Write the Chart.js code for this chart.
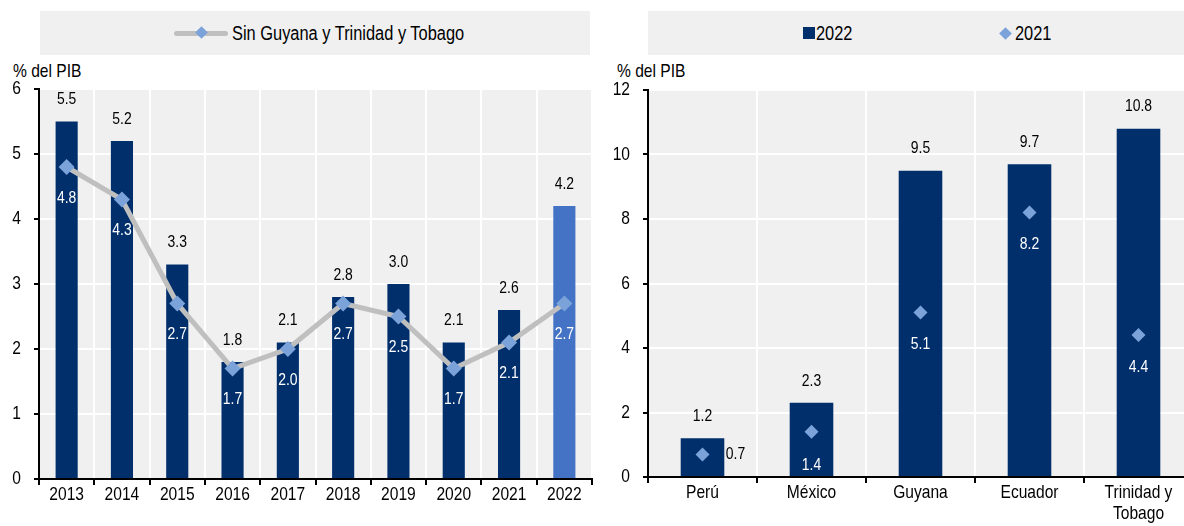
<!DOCTYPE html>
<html>
<head>
<meta charset="utf-8">
<script src="https://cdn.jsdelivr.net/npm/chart.js@4.4.0/dist/chart.umd.min.js"></script>
<style>
  body { margin: 0; width: 1184px; height: 526px; overflow: hidden; background: #fff; position: relative;
         font-family: 'Liberation Sans', Arial, sans-serif; color: #000; }
  .legend { position: absolute; top: 11px; height: 44px; background: #f0f0f0; }
  .item { position: absolute; top: 0; height: 44px; line-height: 44px; font-size: 20px; white-space: nowrap;
          transform: scaleX(0.82); transform-origin: left center; }
  .unit { position: absolute; top: 60px; font-size: 19px; line-height: 22px; white-space: nowrap;
          transform: scaleX(0.82); transform-origin: left center; }
  .wrap { position: absolute; top: 80px; height: 446px; }
  .line-key { position: absolute; width: 54px; height: 5px; border-radius: 3px; background: #bfbfbf; top: 20px; }
  .diamond { position: absolute; width: 9px; height: 9px; background: #7ba3da; transform: rotate(45deg); }
  .square { position: absolute; width: 12px; height: 12px; background: #002f6c; top: 16px; }
</style>
</head>
<body>

<div class="legend" style="left:40px; width:550px;">
  <div class="line-key" style="left:134px;"></div>
  <div class="diamond" style="left:157px; top:17px;"></div>
  <div class="item" style="left:192px;">Sin Guyana y Trinidad y Tobago</div>
</div>
<div class="legend" style="left:648px; width:536px;">
  <div class="square" style="left:155px;"></div>
  <div class="item" style="left:168px;">2022</div>
  <div class="diamond" style="left:353px; top:18px;"></div>
  <div class="item" style="left:367px;">2021</div>
</div>

<div class="unit" style="left:13px;">% del PIB</div>
<div class="unit" style="left:617px;">% del PIB</div>

<div class="wrap" style="left:0; width:600px;"><canvas id="left"></canvas></div>
<div class="wrap" style="left:600px; width:600px;"><canvas id="right"></canvas></div>

<script>
const years = ['2013', '2014', '2015', '2016', '2017', '2018', '2019', '2020', '2021', '2022'];
const totalLac = [5.5, 5.2, 3.3, 1.8, 2.1, 2.8, 3.0, 2.1, 2.6, 4.2];
const sinGuyanaTT = [4.8, 4.3, 2.7, 1.7, 2.0, 2.7, 2.5, 1.7, 2.1, 2.7];

const countries = ['Perú', 'México', 'Guyana', 'Ecuador', ['Trinidad y', 'Tobago']];
const values2022 = [1.2, 2.3, 9.5, 9.7, 10.8];
const values2021 = [0.7, 1.4, 5.1, 8.2, 4.4];

const NAVY = '#002f6c';
const LIGHT_BAR = '#4472c4';
const DIAMOND = '#7ba3da';
const GREY_LINE = '#bfbfbf';
const FONT_FAMILY = "'Liberation Sans', Arial, sans-serif";

// no narrow font installed, so squeeze the text horizontally
function drawCondensed(ctx, text, x, y, align, sx) {
  ctx.save();
  ctx.translate(x, y);
  ctx.scale(sx, 1);
  ctx.textAlign = align;
  ctx.fillText(text, 0, 0);
  ctx.restore();
}

// grey plot background
const plotBg = {
  id: 'plotBg',
  beforeDraw(chart) {
    const {ctx, chartArea: a} = chart;
    ctx.save();
    ctx.fillStyle = '#f0f0f0';
    ctx.fillRect(a.left, a.top, a.right - a.left, a.bottom - a.top);
    ctx.restore();
  }
};

// tick labels drawn from the scales
const condensedTicks = {
  id: 'condensedTicks',
  afterDraw(chart) {
    const ctx = chart.ctx;
    const xs = chart.scales.x;
    const ys = chart.scales.y;
    ctx.save();
    ctx.font = '19px ' + FONT_FAMILY;
    ctx.fillStyle = '#000';
    ctx.textBaseline = 'middle';
    xs.ticks.forEach((t, i) => {
      const lines = [].concat(chart.data.labels[i]);
      lines.forEach((line, k) => {
        drawCondensed(ctx, line, xs.getPixelForTick(i), xs.top + 16 + k * 21, 'center', 0.82);
      });
    });
    ys.ticks.forEach((t, i) => {
      drawCondensed(ctx, String(t.value), ys.right - 18, ys.getPixelForTick(i), 'right', 0.82);
    });
    ctx.restore();
  }
};

// simple data labels, options taken from dataset.valueLabel
const valueLabels = {
  id: 'valueLabels',
  afterDatasetsDraw(chart) {
    const ctx = chart.ctx;
    chart.data.datasets.forEach((ds, i) => {
      const opt = ds.valueLabel;
      if (!opt) return;
      const pick = (v, j) => Array.isArray(v) ? v[j] : v;
      chart.getDatasetMeta(i).data.forEach((el, j) => {
        ctx.save();
        ctx.font = '17px ' + FONT_FAMILY;
        ctx.fillStyle = pick(opt.color, j);
        ctx.textBaseline = 'middle';
        drawCondensed(ctx, ds.data[j].toFixed(1), el.x + (pick(opt.dx, j) || 0), el.y + pick(opt.dy, j), 'center', 0.82);
        ctx.restore();
      });
    });
  }
};

function scales(max, step, yWidth, xHeight) {
  return {
    x: {
      offset: true,
      grid: {
        offset: true,
        color: c => c.index === 0 ? 'rgba(0,0,0,0)' : '#fff',
        lineWidth: 2,
        tickColor: '#000',
        tickLength: 6
      },
      border: {color: '#000', width: 2},
      ticks: {display: false, autoSkip: false},
      afterFit: s => { s.height = xHeight; }
    },
    y: {
      min: 0,
      max: max,
      ticks: {display: false, stepSize: step},
      grid: {
        color: c => c.index === 0 ? 'rgba(0,0,0,0)' : '#fff',
        lineWidth: 2,
        tickColor: '#000',
        tickLength: 5
      },
      border: {color: '#000', width: 2},
      afterFit: s => { s.width = yWidth; }
    }
  };
}

const common = {
  responsive: true,
  maintainAspectRatio: false,
  animation: false,
  plugins: {legend: {display: false}, tooltip: {enabled: false}}
};

new Chart(document.getElementById('left'), {
  type: 'bar',
  data: {
    labels: years,
    datasets: [{
      type: 'line',
      label: 'Sin Guyana y Trinidad y Tobago',
      data: sinGuyanaTT,
      borderColor: GREY_LINE,
      borderWidth: 5,
      pointStyle: 'rectRot',
      pointRadius: 8,
      pointBackgroundColor: DIAMOND,
      pointBorderWidth: 0,
      order: 1,
      valueLabel: {color: '#fff', dy: 31}
    }, {
      type: 'bar',
      label: 'Total',
      data: totalLac,
      backgroundColor: years.map(y => y === '2022' ? LIGHT_BAR : NAVY),
      barPercentage: 0.4,
      categoryPercentage: 1,
      order: 2,
      valueLabel: {color: '#000', dy: -22}
    }]
  },
  options: Object.assign({}, common, {
    layout: {padding: {top: 9, right: 6, left: 0, bottom: 0}},
    scales: scales(6, 1, 39, 47)
  }),
  plugins: [plotBg, valueLabels, condensedTicks]
});

new Chart(document.getElementById('right'), {
  type: 'bar',
  data: {
    labels: countries,
    datasets: [{
      type: 'line',
      label: '2021',
      data: values2021,
      showLine: false,
      pointStyle: 'rectRot',
      pointRadius: 7,
      pointBackgroundColor: DIAMOND,
      pointBorderWidth: 0,
      order: 1,
      valueLabel: {
        color: ['#000', '#fff', '#fff', '#fff', '#fff'],
        dx: [33, 0, 0, 0, 0],
        dy: [0, 33, 32, 32, 32]
      }
    }, {
      type: 'bar',
      label: '2022',
      data: values2022,
      backgroundColor: NAVY,
      barPercentage: 0.4,
      categoryPercentage: 1,
      order: 2,
      valueLabel: {color: '#000', dy: -22}
    }]
  },
  options: Object.assign({}, common, {
    layout: {padding: {top: 10, right: 6, left: 0, bottom: 0}},
    scales: scales(12, 2, 48, 49)
  }),
  plugins: [plotBg, valueLabels, condensedTicks]
});
</script>
</body>
</html>
